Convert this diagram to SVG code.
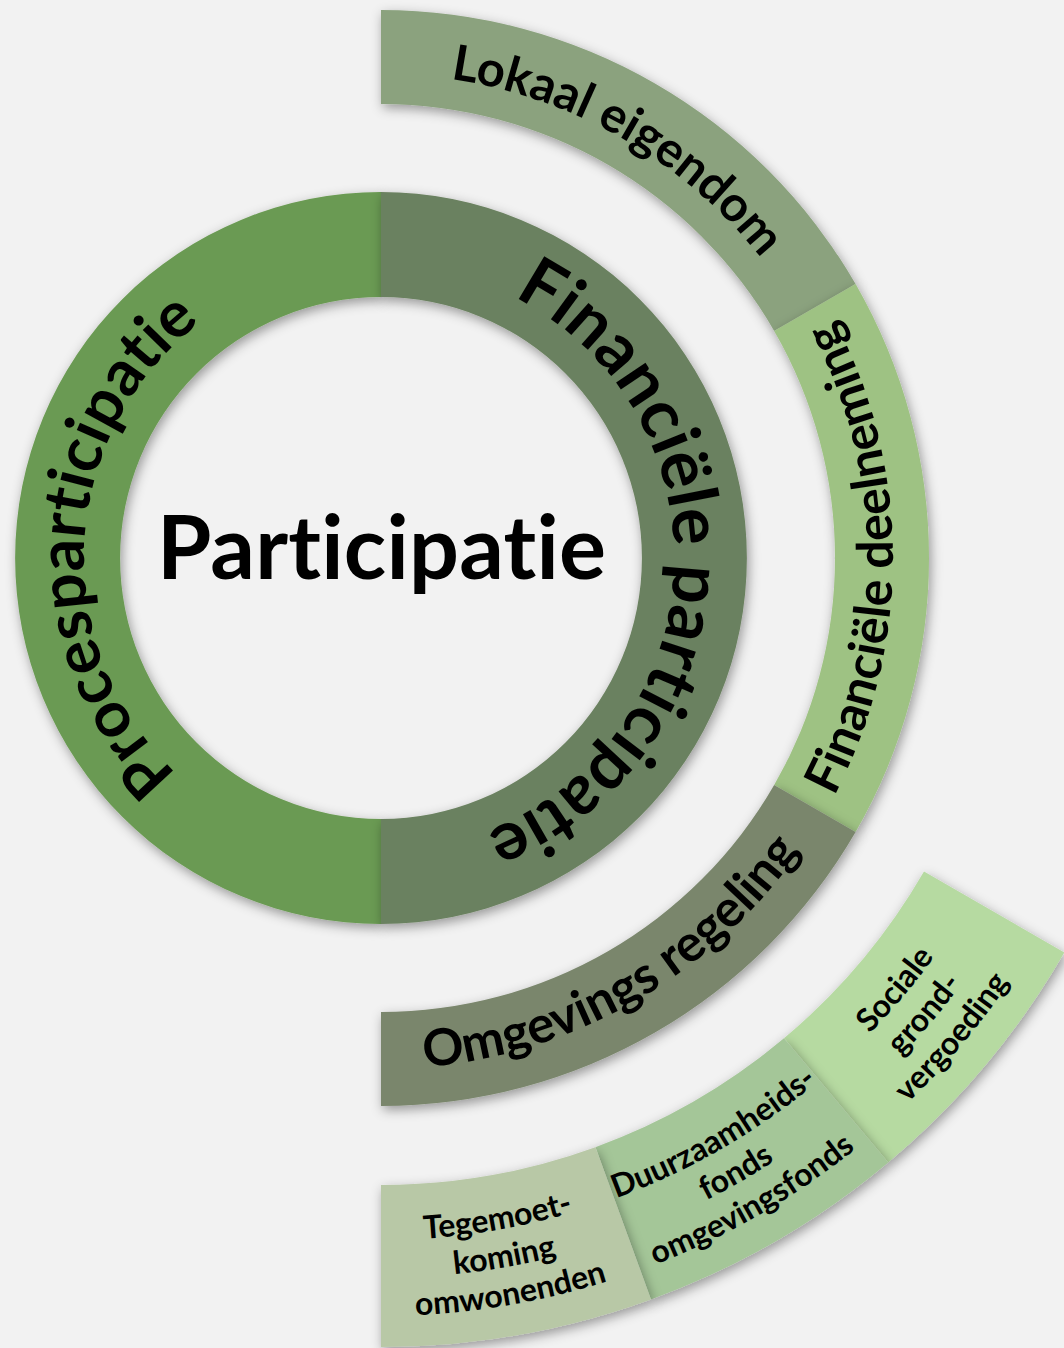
<svg xmlns="http://www.w3.org/2000/svg" width="1064" height="1348" viewBox="0 0 1064 1348">
<style>
.lbl{font-family:Lato,"Open Sans","DejaVu Sans",sans-serif;font-weight:700;fill:#000;font-variant-ligatures:none;font-feature-settings:"liga" 0,"dlig" 0;}
.seg{filter:url(#sh);}
</style>
<defs>
<filter id="sh" x="-20%" y="-20%" width="140%" height="140%">
<feDropShadow dx="2" dy="4" stdDeviation="6" flood-color="#000" flood-opacity="0.38"/>
</filter>
<path id="pProces" d="M 264.95 831.4 A 297 297 0 0 1 294.17 273.98"/>
<path id="pFinPart" d="M 421.78 267.85 A 293 293 0 0 1 391.23 850.82"/>
<path id="pLokaal" d="M 381 74 A 484 484 0 0 1 800.16 316"/>
<path id="pFinDeel" d="M 824.4 814 A 512 512 0 0 0 824.4 302"/>
<path id="pOmg" d="M 381 1069 A 511 511 0 0 0 823.5 813.5"/>
<path id="pT1" d="M 262.6 1229.6 A 682 682 0 0 0 722 1148.6"/>
<path id="pT2" d="M 256 1267.1 A 720 720 0 0 0 741 1181.5"/>
<path id="pT3" d="M 249.4 1304.5 A 758 758 0 0 0 760 1214.4"/>
<path id="pD1" d="M 499.4 1229.6 A 682 682 0 0 0 903.4 996.4"/>
<path id="pD2" d="M 506 1267.1 A 720 720 0 0 0 932.5 1020.8"/>
<path id="pD3" d="M 512.6 1304.5 A 758 758 0 0 0 961.7 1045.2"/>
<path id="pS1" d="M 722 1148.6 A 682 682 0 0 0 1021.9 791.3"/>
<path id="pS2" d="M 741 1181.5 A 720 720 0 0 0 1057.6 804.3"/>
<path id="pS3" d="M 760 1214.4 A 758 758 0 0 0 1093.3 817.3"/>
</defs>
<rect width="1064" height="1348" fill="#f2f2f2"/>

<g id="procesparticipatie">
<path class="seg" fill="#6a9a52" d="M 381 192 A 366 366 0 0 0 381 924 L 381 819 A 261 261 0 0 1 381 297 Z"/>
<text class="lbl" font-size="64"><textPath href="#pProces" startOffset="50%" text-anchor="middle">Procesparticipatie</textPath></text>
</g>

<g id="financiele-participatie">
<path class="seg" fill="#6b8160" d="M 381 192 A 366 366 0 0 1 381 924 L 381 819 A 261 261 0 0 0 381 297 Z"/>
<text class="lbl" font-size="69"><textPath href="#pFinPart" startOffset="50%" text-anchor="middle">Financiële participatie</textPath></text>
</g>

<g id="participatie">
<text class="lbl" x="381.5" y="579" font-size="88" text-anchor="middle" textLength="449">Participatie</text>
</g>

<g id="lokaal-eigendom">
<path class="seg" fill="#8ba27e" d="M 381 10 A 548 548 0 0 1 855.58 284 L 774.18 331 A 454 454 0 0 0 381 104 Z"/>
<text class="lbl" font-size="49"><textPath href="#pLokaal" startOffset="50%" text-anchor="middle">Lokaal eigendom</textPath></text>
</g>

<g id="financiele-deelneming">
<path class="seg" fill="#9ec283" d="M 855.58 284 A 548 548 0 0 1 855.58 832 L 774.18 785 A 454 454 0 0 0 774.18 331 Z"/>
<text class="lbl" font-size="50"><textPath href="#pFinDeel" startOffset="50%" text-anchor="middle">Financiële deelneming</textPath></text>
</g>

<g id="omgevings-regeling">
<path class="seg" fill="#7a866c" d="M 855.58 832 A 548 548 0 0 1 381 1106 L 381 1012 A 454 454 0 0 0 774.18 785 Z"/>
<text class="lbl" font-size="51"><textPath href="#pOmg" startOffset="50%" text-anchor="middle">Omgevings regeling</textPath></text>
</g>

<g id="sociale-grondvergoeding">
<path class="seg" fill="#b6daa1" d="M 1064.3 952.5 A 789 789 0 0 1 888.2 1162.4 L 784 1038.3 A 627 627 0 0 0 924 871.5 Z"/>
<text class="lbl" font-size="32"><textPath href="#pS1" startOffset="50%" text-anchor="middle">Sociale</textPath></text>
<text class="lbl" font-size="32"><textPath href="#pS2" startOffset="50%" text-anchor="middle">grond-</textPath></text>
<text class="lbl" font-size="32"><textPath href="#pS3" startOffset="50%" text-anchor="middle">vergoeding</textPath></text>
</g>

<g id="duurzaamheidsfonds">
<path class="seg" fill="#a4c698" d="M 888.2 1162.4 A 789 789 0 0 1 650.9 1299.4 L 595.4 1147.2 A 627 627 0 0 0 784 1038.3 Z"/>
<text class="lbl" font-size="32"><textPath href="#pD1" startOffset="50%" text-anchor="middle">Duurzaamheids-</textPath></text>
<text class="lbl" font-size="32"><textPath href="#pD2" startOffset="50%" text-anchor="middle">fonds</textPath></text>
<text class="lbl" font-size="32"><textPath href="#pD3" startOffset="50%" text-anchor="middle">omgevingsfonds</textPath></text>
</g>

<g id="tegemoetkoming">
<path class="seg" fill="#b8c8a6" d="M 650.9 1299.4 A 789 789 0 0 1 381 1347 L 381 1185 A 627 627 0 0 0 595.4 1147.2 Z"/>
<text class="lbl" font-size="32"><textPath href="#pT1" startOffset="50%" text-anchor="middle">Tegemoet-</textPath></text>
<text class="lbl" font-size="32"><textPath href="#pT2" startOffset="50%" text-anchor="middle">koming</textPath></text>
<text class="lbl" font-size="32"><textPath href="#pT3" startOffset="50%" text-anchor="middle">omwonenden</textPath></text>
</g>
</svg>
